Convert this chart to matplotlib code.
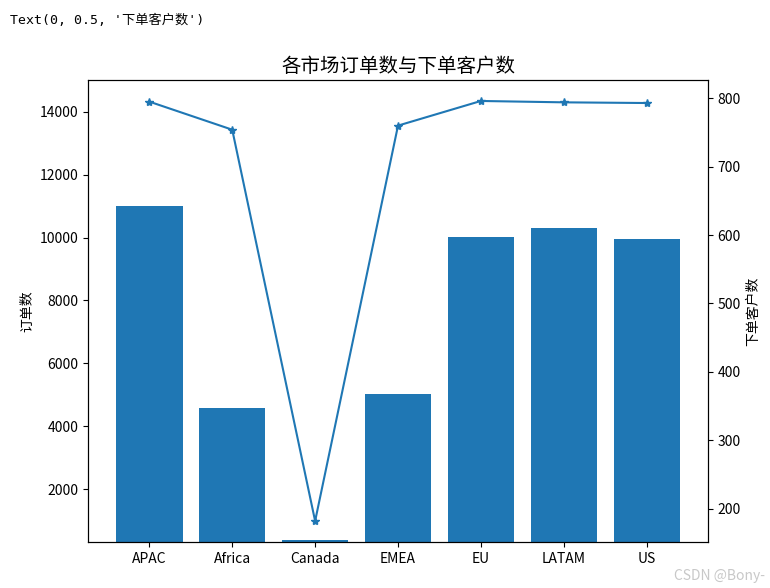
import matplotlib
matplotlib.use("Agg")
import matplotlib.pyplot as plt

plt.rcParams['font.family'] = ['Noto Sans CJK SC', 'DejaVu Sans']
plt.rcParams['axes.unicode_minus'] = False

# market data
markets = ["APAC", "Africa", "Canada", "EMEA", "EU", "LATAM", "US"]
orders = [11000, 4580, 380, 5020, 10010, 10300, 9970]
customers = [795, 754, 182, 760, 796, 794, 793]

fig = plt.figure(figsize=(7.7, 5.88), dpi=100)
ax1 = fig.add_axes([0.1143, 0.0782, 0.8052, 0.7858])

ax1.bar(markets, orders, width=0.8, color="#1f77b4")
ax1.set_ylim(313, 15019)
ax1.set_ylabel("订单数")
ax1.set_title("各市场订单数与下单客户数", fontsize=14)

ax2 = ax1.twinx()
ax2.plot(markets, customers, marker="*", color="#1f77b4")
ax2.set_ylabel("下单客户数")

# jupyter output line and watermark
fig.text(0.013, 0.965, "Text(0, 0.5, '下单客户数')", fontsize=9.5,
         family=['DejaVu Sans Mono', 'Noto Sans CJK SC'], va="center")
fig.text(0.993, 0.02, "CSDN @Bony-", fontsize=10, color="#c8c8c8",
         ha="right", va="center")

fig.savefig("out.png", dpi=100)
